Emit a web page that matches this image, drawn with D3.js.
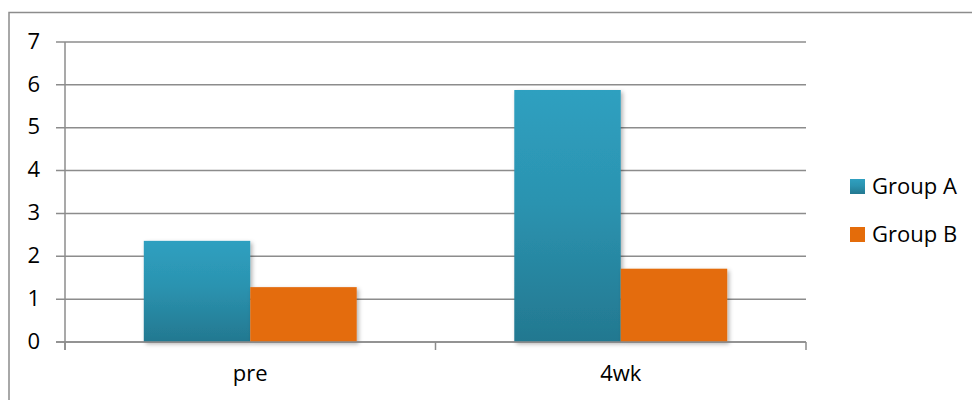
<!DOCTYPE html>
<html>
<head>
<meta charset="utf-8">
<script src="https://cdn.jsdelivr.net/npm/d3@7"></script>
<style>
  body { margin: 0; background: #fff; }
  text { font-family: "Open Sans", sans-serif; fill: #000; }
</style>
</head>
<body>
<div id="chart"></div>
<script>
// data
const categories = ['pre', '4wk'];
const seriesNames = ['Group A', 'Group B'];
const groupA = [2.36, 5.88];
const groupB = [1.28, 1.71];
const yTicks = [0, 1, 2, 3, 4, 5, 6, 7];

const width = 972;
const height = 400;
const margin = { top: 42, right: 166, bottom: 58, left: 65 };
const plotW = width - margin.left - margin.right;
const plotH = height - margin.top - margin.bottom;
const fontSize = '22px';

const svg = d3.select('#chart').append('svg')
  .attr('width', width)
  .attr('height', height);

const defs = svg.append('defs');
const gradA = defs.append('linearGradient')
  .attr('id', 'gradA').attr('x1', 0).attr('y1', 0).attr('x2', 0).attr('y2', 1);
gradA.append('stop').attr('offset', '0%').attr('stop-color', '#2fa0c0');
gradA.append('stop').attr('offset', '45%').attr('stop-color', '#2b93b0');
gradA.append('stop').attr('offset', '100%').attr('stop-color', '#237890');
const shadow = defs.append('filter').attr('id', 'shadow')
  .attr('x', '-10%').attr('y', '-10%').attr('width', '130%').attr('height', '130%');
shadow.append('feDropShadow')
  .attr('dx', 2).attr('dy', 2).attr('stdDeviation', 2)
  .attr('flood-color', '#000').attr('flood-opacity', 0.3);

const colors = ['url(#gradA)', '#e46c0a'];

// outer frame
svg.append('rect')
  .attr('x', 9).attr('y', 12.5)
  .attr('width', width + 10).attr('height', height)
  .attr('fill', 'none').attr('stroke', '#8c8c8c').attr('stroke-width', 1.5);

const g = svg.append('g').attr('transform', `translate(${margin.left}, ${margin.top})`);

// scales
const x0 = d3.scaleBand().domain(categories).range([0, plotW]).paddingInner(0).paddingOuter(0);
const x1 = d3.scaleBand().domain(seriesNames)
  .range([0, x0.bandwidth()]).paddingOuter(0.74).paddingInner(0);
const y = d3.scaleLinear().domain([0, 7]).range([plotH, 0]);

// grid lines
g.append('g')
  .selectAll('line')
  .data(yTicks)
  .enter().append('line')
  .attr('x1', -9).attr('x2', plotW)
  .attr('y1', (d) => y(d)).attr('y2', (d) => y(d))
  .attr('stroke', '#8c8c8c').attr('stroke-width', 1.5);

// y axis
const yAxis = d3.axisLeft(y).tickValues(yTicks).tickFormat(d3.format('d')).tickSize(0).tickPadding(25);
const yG = g.append('g').call(yAxis);
yG.select('.domain').remove();
yG.selectAll('text').style('font-size', fontSize).style('font-family', '"Open Sans", sans-serif')
  .attr('dy', '0.28em');
g.append('line')
  .attr('x1', 0).attr('x2', 0).attr('y1', 0).attr('y2', plotH + 8)
  .attr('stroke', '#8c8c8c').attr('stroke-width', 1.5);

// bars
const data = categories.map((c, i) => ({ cat: c, values: [groupA[i], groupB[i]] }));
const cat = g.selectAll('.cat')
  .data(data)
  .enter().append('g')
  .attr('transform', (d) => `translate(${x0(d.cat)}, 0)`);
cat.selectAll('rect')
  .data((d) => d.values.map((v, j) => ({ v: v, s: seriesNames[j], j: j })))
  .enter().append('rect')
  .attr('x', (d) => x1(d.s))
  .attr('y', (d) => y(d.v))
  .attr('width', x1.bandwidth())
  .attr('height', (d) => plotH - y(d.v))
  .attr('fill', (d) => colors[d.j])
  .attr('filter', 'url(#shadow)');

// x axis
const xAxis = d3.axisBottom(x0).tickSize(0).tickPadding(23);
const xG = g.append('g').attr('transform', `translate(0, ${plotH})`).call(xAxis);
xG.select('.domain').remove();
xG.selectAll('text').style('font-size', fontSize).style('font-family', '"Open Sans", sans-serif');
g.append('line')
  .attr('x1', -9).attr('x2', plotW).attr('y1', plotH).attr('y2', plotH)
  .attr('stroke', '#8c8c8c').attr('stroke-width', 1.5);
g.append('g')
  .selectAll('line')
  .data([0, plotW / 2, plotW])
  .enter().append('line')
  .attr('x1', (d) => d).attr('x2', (d) => d)
  .attr('y1', plotH).attr('y2', plotH + 8)
  .attr('stroke', '#8c8c8c').attr('stroke-width', 1.5);

// legend
const legend = svg.append('g').attr('transform', 'translate(850, 179)');
const item = legend.selectAll('.item')
  .data(seriesNames)
  .enter().append('g')
  .attr('transform', (d, i) => `translate(0, ${i * 48})`);
item.append('rect')
  .attr('width', 15).attr('height', 15)
  .attr('fill', (d, i) => colors[i]);
item.append('text')
  .attr('x', 22).attr('y', 7.5).attr('dy', '0.36em')
  .style('font-size', fontSize)
  .text((d) => d);
</script>
</body>
</html>
